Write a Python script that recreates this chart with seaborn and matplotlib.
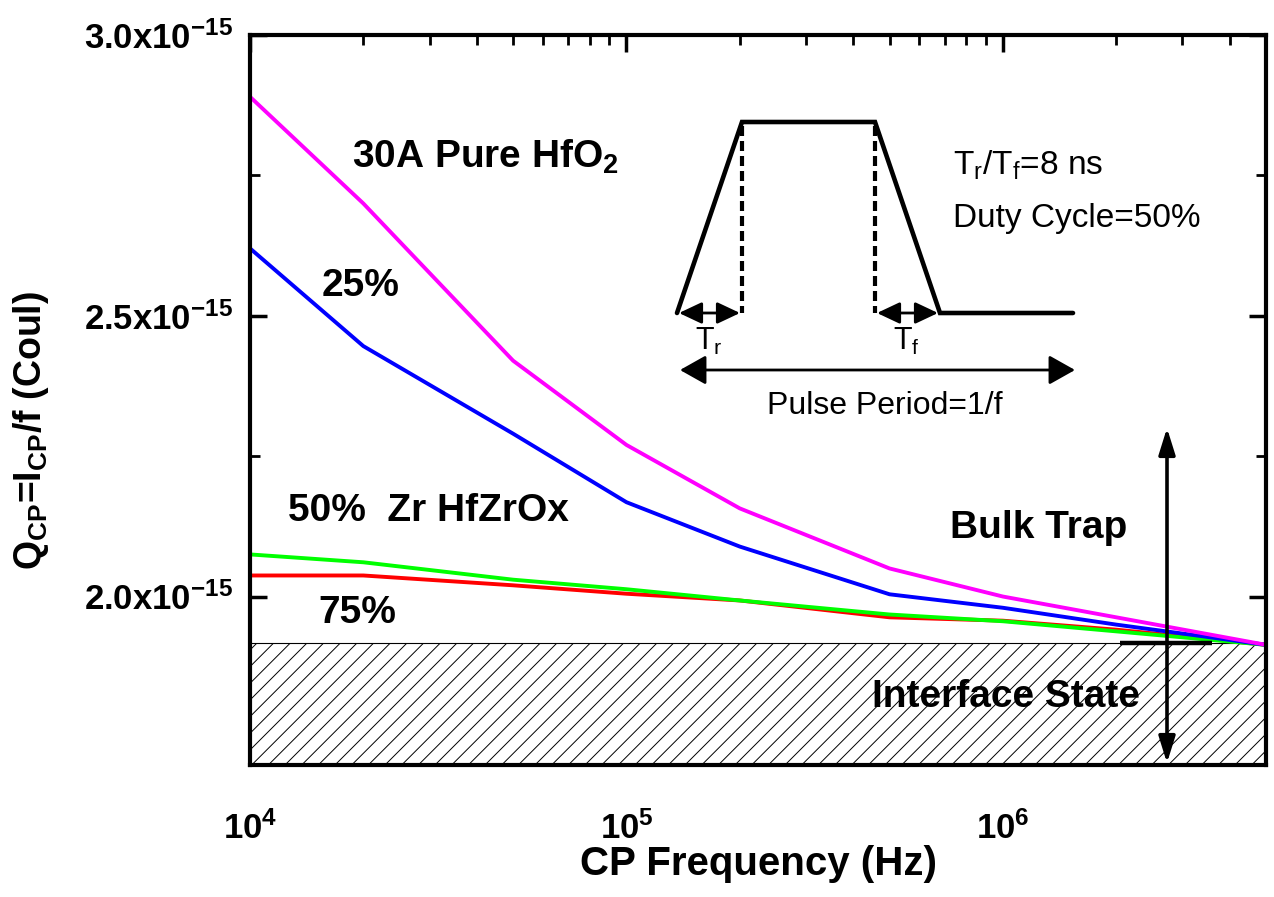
import numpy as np
import pandas as pd
import matplotlib
matplotlib.use("Agg")
import matplotlib.pyplot as plt
from matplotlib.ticker import FuncFormatter, LogLocator, FixedLocator, LogFormatterSciNotation
import seaborn as sns

# ---------------- data ----------------
freq = [1e4, 2e4, 5e4, 1e5, 2e5, 5e5, 1e6, 2e6, 5e6]
q_hfo2 = [2.89, 2.70, 2.42, 2.27, 2.157, 2.05, 2.00, 1.963, 1.914]
q_zr25 = [2.62, 2.446, 2.29, 2.168, 2.089, 2.004, 1.980, 1.950, 1.914]
q_zr50 = [2.075, 2.061, 2.030, 2.013, 1.993, 1.968, 1.956, 1.938, 1.914]
q_zr75 = [2.0375, 2.0375, 2.020, 2.005, 1.993, 1.963, 1.957, 1.941, 1.914]
series_names = ["75%", "50%", "25%", "30A Pure HfO2"]
series_colors = ["#FF0000", "#00FF00", "#0000FF", "#FF00FF"]
interface_level = 1.917  # x1e-15
y_range = (1.7, 3.0)
x_range = (1e4, 5e6)
y_major = [2.0, 2.5, 3.0]
y_minor = [1.75, 2.25, 2.75]

scale = 1e-15
rows = []
for name, vals in zip(series_names, [q_zr75, q_zr50, q_zr25, q_hfo2]):
    for f, v in zip(freq, vals):
        rows.append({"freq": f, "Q": v * scale, "series": name})
df = pd.DataFrame(rows)

# ---------------- style ----------------
sns.set_style("ticks")
plt.rcParams["font.family"] = ["Liberation Sans", "DejaVu Sans"]
plt.rcParams["font.weight"] = "bold"
plt.rcParams["axes.labelweight"] = "bold"
plt.rcParams["mathtext.fontset"] = "custom"
plt.rcParams["mathtext.rm"] = "Liberation Sans"
plt.rcParams["mathtext.bf"] = "Liberation Sans:bold"
plt.rcParams["mathtext.it"] = "Liberation Sans:italic"
plt.rcParams["hatch.linewidth"] = 0.7
for k in ("text.color", "axes.labelcolor", "xtick.color", "ytick.color",
          "axes.edgecolor", "hatch.color"):
    plt.rcParams[k] = "black"

W, H = 1274, 897
fig = plt.figure(figsize=(W / 100, H / 100), dpi=100)
L, R, T, B = 250, 1266, 35, 765
ax = fig.add_axes([L / W, 1 - B / H, (R - L) / W, (B - T) / H])

# hatched interface-state region
ax.fill_between(list(x_range), [y_range[0] * scale] * 2, [interface_level * scale] * 2,
                facecolor="white", edgecolor="black", hatch="//", linewidth=0, zorder=1)
ax.axhline(interface_level * scale, color="black", lw=0.8, zorder=1.5)

sns.lineplot(data=df, x="freq", y="Q", hue="series", hue_order=series_names,
             palette=series_colors, lw=2.8, ax=ax, legend=False, zorder=3)

ax.set_xscale("log")
ax.set_xlim(*x_range)
ax.set_ylim(y_range[0] * scale, y_range[1] * scale)

ax.yaxis.set_major_locator(FixedLocator([v * scale for v in y_major]))
ax.yaxis.set_minor_locator(FixedLocator([v * scale for v in y_minor]))
ax.yaxis.set_major_formatter(FuncFormatter(
    lambda v, p: r"$\mathregular{%.1fx10^{-15}}$" % (v / scale)))
ax.xaxis.set_major_locator(LogLocator(base=10, numticks=10))
ax.xaxis.set_minor_locator(LogLocator(base=10, subs=np.arange(2, 10), numticks=20))
ax.xaxis.set_major_formatter(LogFormatterSciNotation())

ax.tick_params(which="both", direction="in", top=True, right=True)
ax.tick_params(which="major", length=12, width=2.5, labelsize=25)
ax.tick_params(which="minor", length=7, width=2)
ax.tick_params(axis="x", which="major", pad=33)
ax.tick_params(axis="y", which="major", pad=12)
for s in ax.spines.values():
    s.set_linewidth(3)
    s.set_zorder(5)

ax.set_xlabel("CP Frequency (Hz)", fontsize=29, labelpad=0)
ax.set_ylabel(r"Q$_\mathregular{CP}$=I$_\mathregular{CP}$/f (Coul)", fontsize=27)
ax.yaxis.set_label_coords((51 - L) / (R - L), (B - 430) / (B - T))


def P(px, py):
    return ((px - L) / (R - L), (B - py) / (B - T))


tr = ax.transAxes

# annotation labels
lab = dict(transform=tr, fontsize=28, fontweight="bold", va="baseline", ha="left", zorder=6)
ax.text(*P(352, 168), r"30A Pure HfO$_\mathregular{2}$", **lab)
ax.text(*P(322, 296), "25%", **lab)
ax.text(*P(288, 521), "50%  Zr HfZrOx", **lab)
ax.text(*P(318, 623), "75%", **lab)
ax.text(*P(950, 538), "Bulk Trap", **lab)
ax.text(*P(872, 707), "Interface State", **lab)

# pulse schematic
px = [677, 742, 875, 940, 1073]
py = [313, 122, 122, 313, 313]
pts = [P(a, b) for a, b in zip(px, py)]
ax.plot([p[0] for p in pts], [p[1] for p in pts], color="black", lw=3.3,
        transform=tr, solid_joinstyle="miter", zorder=6)
for xv in (742, 875):
    a, b = P(xv, 126), P(xv, 313)
    ax.plot([a[0], b[0]], [a[1], b[1]], color="black", lw=3, ls=(0, (2.4, 1.2)),
            transform=tr, zorder=6)

arrow_small = dict(arrowstyle="<|-|>,head_length=0.7,head_width=0.33", color="black",
                   lw=2, shrinkA=0, shrinkB=0, mutation_scale=20)
for x0, x1 in ((679, 740), (877, 938)):
    ax.annotate("", xy=P(x1, 313), xytext=P(x0, 313), xycoords=tr, textcoords=tr,
                arrowprops=arrow_small, zorder=6)
ax.annotate("", xy=P(1075, 370), xytext=P(680, 370), xycoords=tr, textcoords=tr,
            arrowprops=dict(arrowstyle="<|-|>,head_length=0.8,head_width=0.45",
                            color="black", lw=2, shrinkA=0, shrinkB=0, mutation_scale=20),
            zorder=6)

reg = dict(transform=tr, fontweight="normal", va="baseline", zorder=6)
ax.text(*P(695, 350), r"T$_\mathregular{r}$", fontsize=22, ha="left", **reg)
ax.text(*P(893, 350), r"T$_\mathregular{f}$", fontsize=22, ha="left", **reg)
ax.text(*P(885, 414), "Pulse Period=1/f", fontsize=23, ha="center", **reg)
ax.text(*P(953, 175), r"T$_\mathregular{r}$/T$_\mathregular{f}$=8 ns", fontsize=24, ha="left", **reg)
ax.text(*P(953, 227), "Duty Cycle=50%", fontsize=24, ha="left", **reg)

# bulk trap vertical double arrow and marker bar
ax.annotate("", xy=P(1167, 428), xytext=P(1167, 763), xycoords=tr, textcoords=tr,
            arrowprops=dict(arrowstyle="<|-|>,head_length=0.8,head_width=0.25",
                            color="black", lw=2.6, shrinkA=0, shrinkB=0, mutation_scale=20),
            zorder=6)
a, b = P(1120, 643), P(1212, 643)
ax.plot([a[0], b[0]], [a[1], b[1]], color="black", lw=3.2, transform=tr, zorder=4,
        solid_capstyle="butt")

fig.savefig("out.png", dpi=100)
